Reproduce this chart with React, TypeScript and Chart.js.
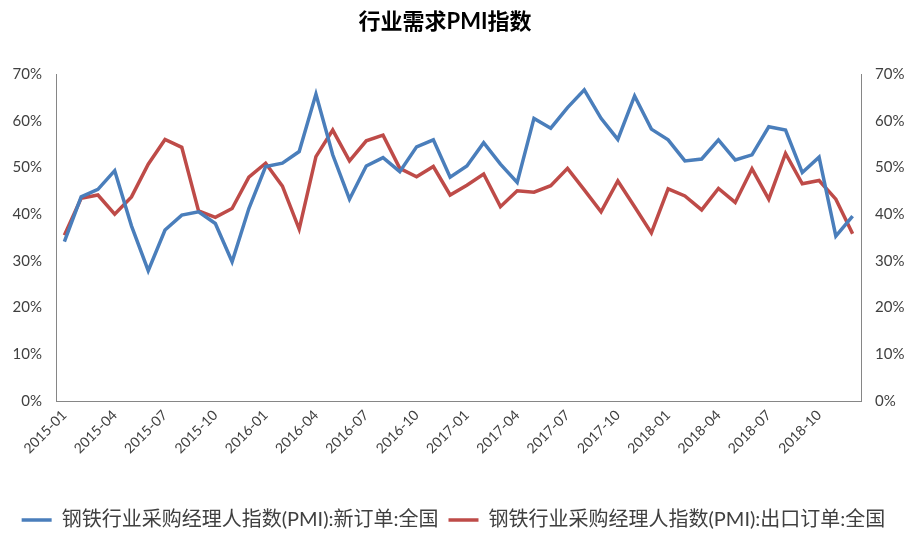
import React, { useEffect, useRef } from "react";
import { Chart, registerables } from "chart.js";

Chart.register(...registerables);

const months: string[] = [];
for (let y = 2015; y <= 2018; y++) {
  for (let m = 1; m <= 12; m++) {
    months.push(`${y}-${m < 10 ? "0" + m : m}`);
  }
}

const newOrders = [
  34.1, 43.7, 45.3, 49.3, 37.5, 27.9, 36.6, 39.8, 40.5, 38.0, 29.8, 41.2,
  50.2, 50.9, 53.4, 65.7, 52.7, 43.2, 50.3, 52.1, 49.1, 54.4, 55.9, 47.9,
  50.3, 55.3, 50.7, 46.8, 60.5, 58.4, 62.8, 66.6, 60.5, 56.0, 65.3, 58.2,
  55.9, 51.4, 51.8, 55.9, 51.6, 52.7, 58.7, 58.0, 48.9, 52.2, 35.3, 39.6,
];

const exportOrders = [
  35.5, 43.4, 44.1, 40.0, 43.7, 50.7, 56.0, 54.3, 40.7, 39.3, 41.2, 47.9,
  50.9, 46.0, 36.8, 52.3, 58.0, 51.4, 55.7, 56.9, 49.8, 48.0, 50.2, 44.1,
  46.2, 48.6, 41.6, 45.0, 44.7, 46.1, 49.8, 45.2, 40.5, 47.1, 41.6, 36.0,
  45.4, 43.9, 40.9, 45.5, 42.5, 49.7, 43.2, 53.0, 46.5, 47.2, 43.2, 35.8,
];

const seriesNames = [
  "钢铁行业采购经理人指数(PMI):新订单:全国",
  "钢铁行业采购经理人指数(PMI):出口订单:全国",
];

const title = "行业需求PMI指数";
const fontFamily = "Lato, 'Noto Sans CJK SC', sans-serif";

const titlePlugin = {
  id: "customTitle",
  afterDraw(chart: any) {
    const ctx = chart.ctx;
    ctx.save();
    ctx.font = `bold 22px ${fontFamily}`;
    ctx.fillStyle = "#000000";
    ctx.textAlign = "center";
    ctx.textBaseline = "middle";
    ctx.fillText(title, 445, 22);
    ctx.restore();
  },
};

export default function App() {
  const ref = useRef<HTMLCanvasElement | null>(null);

  useEffect(() => {
    if (!ref.current) return;
    const yTicks = {
      stepSize: 10,
      color: "#404040",
      font: { family: fontFamily, size: 15 },
      callback: (v: any) => `${v}%`,
    };
    const chart = new Chart(ref.current, {
      type: "line",
      data: {
        labels: months,
        datasets: [
          {
            label: seriesNames[0],
            data: newOrders,
            borderColor: "#4A7EBB",
            backgroundColor: "#4A7EBB",
            borderWidth: 3.5,
            pointRadius: 0,
            tension: 0,
            yAxisID: "y",
          },
          {
            label: seriesNames[1],
            data: exportOrders,
            borderColor: "#BE4B48",
            backgroundColor: "#BE4B48",
            borderWidth: 3.5,
            pointRadius: 0,
            tension: 0,
            yAxisID: "y2",
          },
        ],
      },
      plugins: [titlePlugin],
      options: {
        responsive: false,
        animation: false,
        layout: { padding: { top: 74, left: 0, right: 0, bottom: -6 } },
        plugins: {
          title: { display: false },
          legend: {
            position: "bottom",
            labels: {
              usePointStyle: true,
              pointStyle: "line",
              pointStyleWidth: 30,
              boxWidth: 30,
              padding: 10,
              color: "#404040",
              font: { family: fontFamily, size: 20 },
            },
          },
          tooltip: { enabled: false },
        },
        scales: {
          x: {
            offset: true,
            grid: { display: false, drawTicks: false },
            border: { display: true, color: "#868686", width: 1 },
            ticks: {
              autoSkip: false,
              maxRotation: 45,
              minRotation: 45,
              padding: 6,
              color: "#404040",
              font: { family: fontFamily, size: 14 },
              callback: (_v: any, i: number) => (i % 3 === 0 ? months[i] : ""),
            },
            afterFit: (s: any) => {
              s.height = 99;
            },
          },
          y: {
            position: "left",
            min: 0,
            max: 70,
            grid: { display: false, drawTicks: false },
            border: { display: true, color: "#868686", width: 1 },
            ticks: { ...yTicks, padding: 14 },
            afterFit: (s: any) => {
              s.width = 56;
            },
          },
          y2: {
            position: "right",
            min: 0,
            max: 70,
            grid: { display: false, drawTicks: false },
            border: { display: true, color: "#868686", width: 1 },
            ticks: { ...yTicks, padding: 14 },
            afterFit: (s: any) => {
              s.width = 46;
            },
          },
        },
      },
    });
    return () => chart.destroy();
  }, []);

  return (
    <div style={{ position: "absolute", left: 0, top: 0, width: 907, height: 534, background: "#fff" }}>
      <canvas ref={ref} width={907} height={534} />
    </div>
  );
}
